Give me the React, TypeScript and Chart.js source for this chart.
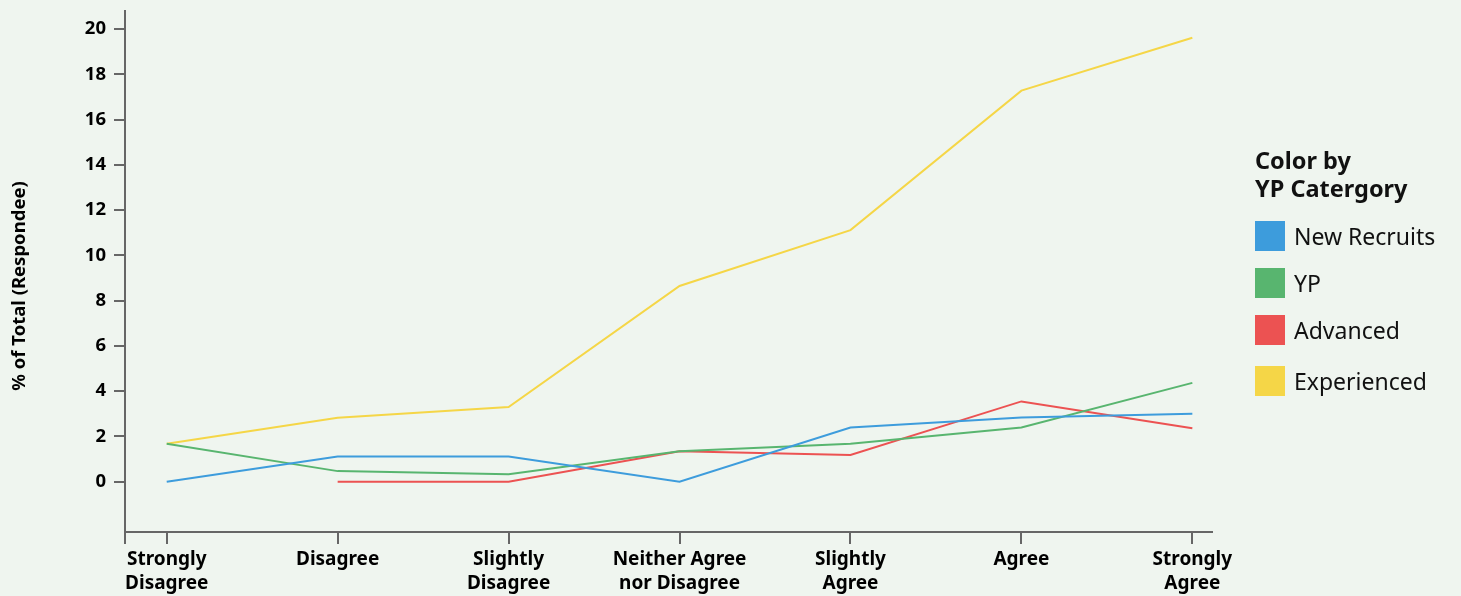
import React, { useEffect, useRef } from "react";
import { Chart, registerables } from "chart.js";

Chart.register(...registerables);

const CATEGORIES: string[][] = [
  ["Strongly", "Disagree"],
  ["Disagree"],
  ["Slightly", "Disagree"],
  ["Neither Agree", "nor Disagree"],
  ["Slightly", "Agree"],
  ["Agree"],
  ["Strongly", "Agree"],
];

const NEW_RECRUITS = [0, 1.12, 1.12, 0, 2.4, 2.84, 3.0];
const YP = [1.68, 0.47, 0.33, 1.35, 1.68, 2.4, 4.37];
const ADVANCED: (number | null)[] = [null, 0, 0, 1.35, 1.18, 3.55, 2.36];
const EXPERIENCED = [1.68, 2.83, 3.3, 8.65, 11.12, 17.28, 19.62];

const SERIES_NAMES = ["New Recruits", "YP", "Advanced", "Experienced"];
const SERIES_COLORS = ["#3d9cdc", "#58b56f", "#ec5252", "#f5d647"];
const Y_TICKS = [0, 2, 4, 6, 8, 10, 12, 14, 16, 18, 20];

const BG = "#eff5ef";
const FONT = "'Noto Sans', 'Open Sans', sans-serif";

export default function App() {
  const ref = useRef<HTMLCanvasElement | null>(null);

  useEffect(() => {
    if (!ref.current) return;
    const seriesData = [NEW_RECRUITS, YP, ADVANCED, EXPERIENCED];
    const yTitlePlugin = {
      id: "yTitle",
      afterDraw(chart: any) {
        const ctx = chart.ctx;
        ctx.save();
        ctx.translate(20, 286);
        ctx.rotate(-Math.PI / 2);
        ctx.font = `bold 18.5px ${FONT}`;
        ctx.fillStyle = "#000";
        ctx.textAlign = "center";
        ctx.textBaseline = "middle";
        ctx.fillText("% of Total (Respondee)", 0, 0);
        ctx.restore();
      },
    };
    const chart = new Chart(ref.current, {
      type: "line",
      data: {
        datasets: seriesData.map((arr, i) => ({
          label: SERIES_NAMES[i],
          data: arr.map((v, j) => ({ x: j, y: v })),
          borderColor: SERIES_COLORS[i],
          backgroundColor: SERIES_COLORS[i],
          borderWidth: 2,
          pointRadius: 0,
          tension: 0,
          spanGaps: false,
        })),
      },
      options: {
        animation: false,
        responsive: false,
        maintainAspectRatio: false,
        layout: { padding: { left: 0, top: 11, right: 249, bottom: 0 } },
        plugins: { legend: { display: false }, tooltip: { enabled: false } },
        scales: {
          x: {
            type: "linear",
            min: -0.244,
            max: 6.115,
            afterFit(scale: any) {
              scale.height = 64;
              scale.paddingLeft = 0;
              scale.paddingRight = 0;
            },
            afterBuildTicks(scale: any) {
              scale.ticks = [{ value: -0.244 }].concat(
                CATEGORIES.map((_, i) => ({ value: i }))
              );
            },
            border: { display: true, color: "#666", width: 2 },
            grid: {
              drawOnChartArea: false,
              drawTicks: true,
              tickLength: 12,
              color: "#666",
              lineWidth: 2,
            },
            ticks: {
              autoSkip: false,
              maxRotation: 0,
              padding: 4,
              color: "#000",
              font: { family: FONT, size: 19, weight: "bold", lineHeight: 1.26 },
              callback: (value: any) => {
                const v = Number(value);
                return Number.isInteger(v) && CATEGORIES[v] ? CATEGORIES[v] : "";
              },
            },
          },
          y: {
            type: "linear",
            min: -2.22,
            max: 20.8,
            afterFit(scale: any) {
              scale.width = 125;
              scale.paddingTop = 0;
              scale.paddingBottom = 0;
            },
            afterBuildTicks(scale: any) {
              scale.ticks = Y_TICKS.map((v) => ({ value: v }));
            },
            border: { display: true, color: "#666", width: 2 },
            grid: {
              drawOnChartArea: false,
              drawTicks: true,
              tickLength: 11,
              color: "#666",
              lineWidth: 2,
            },
            ticks: {
              padding: 8,
              color: "#000",
              font: { family: FONT, size: 18.5, weight: "bold" },
              callback: (value: any) => String(value),
            },
          },
        },
      },
      plugins: [yTitlePlugin],
    } as any);
    return () => chart.destroy();
  }, []);

  return (
    <div
      style={{
        position: "fixed",
        left: 0,
        top: 0,
        width: 1461,
        height: 596,
        background: BG,
        fontFamily: FONT,
      }}
    >
      <canvas
        ref={ref}
        width={1461}
        height={596}
        style={{ position: "absolute", left: 0, top: 0, width: 1461, height: 596 }}
      />
      <div
        style={{
          position: "absolute",
          left: 1255,
          top: 146,
          color: "#111",
        }}
      >
        <div style={{ fontWeight: "bold", fontSize: 23.5, lineHeight: "28px", whiteSpace: "nowrap" }}>
          Color by
          <br />
          YP Catergory
        </div>
        {SERIES_NAMES.map((name, i) => (
          <div
            key={name}
            style={{
              position: "absolute",
              left: 0,
              top: [75, 122, 169, 220][i],
              display: "flex",
              alignItems: "center",
              whiteSpace: "nowrap",
            }}
          >
            <div
              style={{
                width: 30,
                height: 30,
                background: SERIES_COLORS[i],
                marginRight: 9,
              }}
            />
            <span style={{ fontSize: 23, lineHeight: "30px" }}>{name}</span>
          </div>
        ))}
      </div>
    </div>
  );
}
